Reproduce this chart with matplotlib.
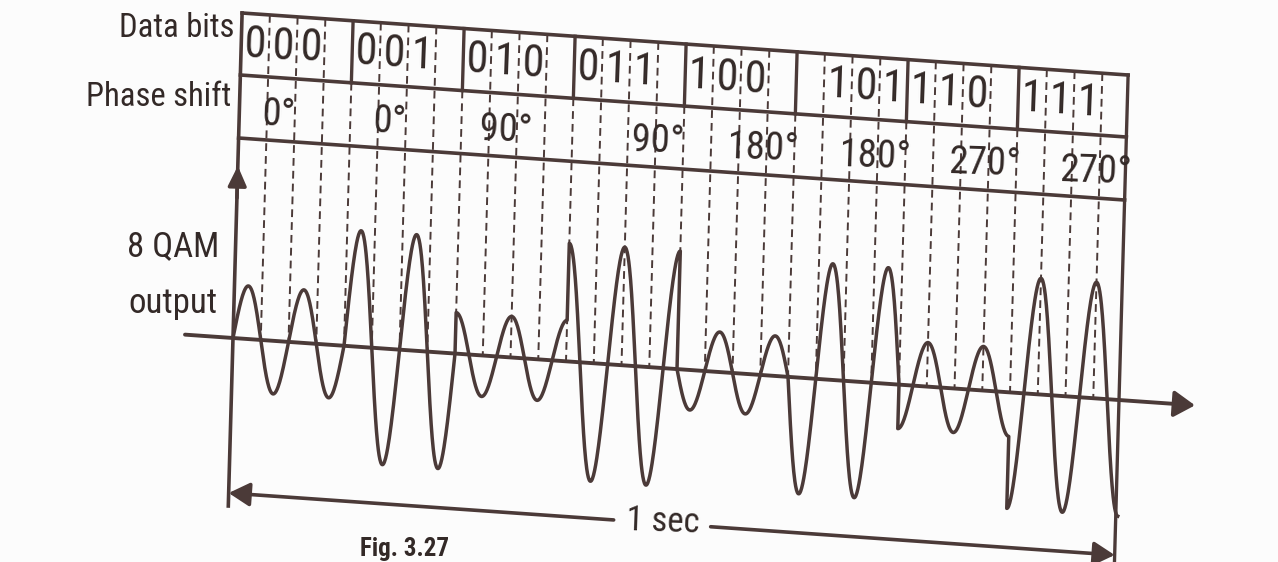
import numpy as np
import matplotlib
matplotlib.use('Agg')
import matplotlib.pyplot as plt
from matplotlib.transforms import Affine2D

# symbols of the 8 QAM example
bits = ['000', '001', '010', '011', '100', '101', '110', '111']
phase_deg = [0, 0, 90, 90, 180, 180, 270, 270]
amplitude = [53, 116, 41, 118, 40, 116, 44, 116]   # peak height
phase_labels = [f'{p}°' for p in phase_deg]

# layout (scan pixels)
W = 111.0                 # one symbol
cycles_per_symbol = 2
bit_first_cell = [0, 0, 0, 0, 0, 1, 0, 0]
label_offset = [40, 40, 45, 86, 80, 81, 79, 79]
row_top, row_mid, row_bot = 325, 263, 200
ink = '#4b3a38'
txt = '#33292710'[:7]

plt.rcParams['font.family'] = ['Roboto Condensed', 'DejaVu Sans']

fig = plt.figure(figsize=(12.78, 5.62), dpi=100, facecolor='#fcfcfc')
ax = fig.add_axes([0, 0, 1, 1])
ax.set_autoscale_on(False)
ax.set_xlim(0, 1278)
ax.set_ylim(562, 0)
ax.axis('off')

# the page is scanned slightly tilted
skew = Affine2D(np.array([[1.0, 0.028, 233.0],
                          [0.07, -1.0, 338.0],
                          [0.0, 0.0, 1.0]])) + ax.transData

# waveform
us, ys = [], []
for k, (a, p) in enumerate(zip(amplitude, phase_deg)):
    u = np.linspace(k * W, (k + 1) * W, 240)
    y = a * np.sin(2 * np.pi * cycles_per_symbol * (u - k * W) / W + np.deg2rad(p))
    us.append(u)
    ys.append(y)
ax.plot(np.concatenate(us), np.concatenate(ys), color=ink, lw=2.5, transform=skew,
        solid_joinstyle='round', zorder=4)

# table frame
n = len(bits)
right = n * W - 2
for v in (row_top, row_mid, row_bot):
    ax.plot([0, right], [v, v], color=ink, lw=2.6, transform=skew, zorder=3)
ax.plot([0, 0], [row_top, -168], color=ink, lw=2.6, transform=skew, zorder=3)
ax.plot([right, right], [row_top, -166], color=ink, lw=2.4, transform=skew, zorder=3)
for k in range(1, n):
    ax.plot([k * W, k * W], [row_top, row_mid], color=ink, lw=2.4, transform=skew, zorder=3)

# dashed guides every half carrier cycle
for j in range(1, 4 * n):
    u = j * W / 4
    top = row_mid if j % 4 == 0 else row_top
    ax.plot([u, u], [top, 0], color=ink, lw=1.4, ls=(0, (4, 2.6)), transform=skew, zorder=2)

# table text
for k, b in enumerate(bits):
    for i, ch in enumerate(b):
        u = k * W + (bit_first_cell[k] + i + 0.5) * W / 4
        ax.text(u, (row_top + row_mid) / 2, ch, transform=skew, ha='center', va='center',
                fontsize=32, color=txt, rotation=-2, zorder=5)
    ax.text(k * W + label_offset[k], 226, phase_labels[k], transform=skew, ha='center',
            va='center', fontsize=28, color=txt, rotation=-2, zorder=5)

# axes arrows
ax.annotate('', xy=(962, 0), xytext=(-48, 0), xycoords=skew, textcoords=skew,
            arrowprops=dict(arrowstyle='-|>,head_length=0.8,head_width=0.5', color=ink,
                            lw=2.8, shrinkA=0, shrinkB=0, mutation_scale=16), zorder=3)
ax.annotate('', xy=(0, 172), xytext=(0, 140), xycoords=skew, textcoords=skew,
            arrowprops=dict(arrowstyle='-|>,head_length=0.75,head_width=0.35', color=ink,
                            lw=2.6, shrinkA=0, shrinkB=0, mutation_scale=16), zorder=3)

# 1 sec span
ax.annotate('', xy=(0, -155), xytext=(385, -155), xycoords=skew, textcoords=skew,
            arrowprops=dict(arrowstyle='-|>,head_length=0.8,head_width=0.45', color=ink,
                            lw=2.6, shrinkA=0, shrinkB=0, mutation_scale=16), zorder=3)
ax.annotate('', xy=(right, -155), xytext=(482, -155), xycoords=skew, textcoords=skew,
            arrowprops=dict(arrowstyle='-|>,head_length=0.8,head_width=0.45', color=ink,
                            lw=2.6, shrinkA=0, shrinkB=0, mutation_scale=16), zorder=3)
ax.text(434, -153, '1 sec', transform=skew, ha='center', va='center', fontsize=25,
        color=txt, rotation=-2)

# left labels
ax.text(234, 28, 'Data bits', ha='right', va='center', fontsize=23.5, color=txt)
ax.text(231, 97, 'Phase shift', ha='right', va='center', fontsize=23.5, color=txt)
ax.text(173, 247, '8 QAM', ha='center', va='center', fontsize=25, color=txt)
ax.text(173, 303, 'output', ha='center', va='center', fontsize=25, color=txt)

# caption
ax.text(360, 561, 'Fig. 3.27', ha='left', va='bottom', fontsize=18, fontweight='bold',
        color=txt)

fig.savefig('out.png', dpi=100, facecolor=fig.get_facecolor())
